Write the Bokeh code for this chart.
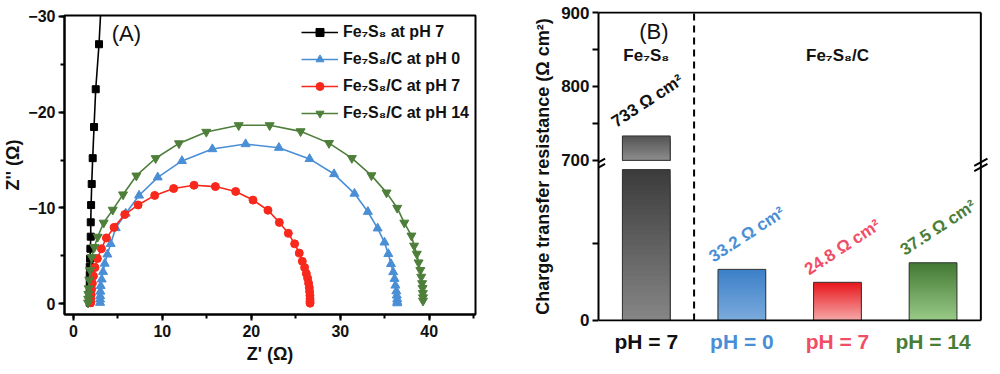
from bokeh.plotting import figure
from bokeh.models import Range1d, SingleIntervalTicker, FixedTicker, Label, ColumnDataSource
from bokeh.layouts import row, column
from bokeh.embed import file_html
from bokeh.resources import INLINE
from bokeh.core.properties import value

FONT = "Liberation Sans"

# ---------------- data: panel (A) Nyquist plots ----------------
series_names = ["Fe₇S₈ at pH 7", "Fe₇S₈/C at pH 0", "Fe₇S₈/C at pH 7", "Fe₇S₈/C at pH 14"]

fe7s8_ph7_x = [1.83, 1.83, 1.83, 1.84, 1.84, 1.84, 1.84, 1.87, 1.91, 1.95, 1.95, 1.99,
               2.06, 2.17, 2.32, 2.51, 2.88, 3.2]
fe7s8_ph7_y = [-0.1, -0.5, -1.0, -1.6, -2.2, -3.0, -3.85, -4.7, -5.74, -7.0, -8.5, -10.3,
               -12.5, -15.2, -18.45, -22.4, -27.1, -32.8]

c_ph0_x = [3.0, 3.0, 3.01, 3.03, 3.07, 3.18, 3.33, 3.52, 3.82, 4.19, 4.76, 5.88, 7.38,
           9.48, 12.2, 15.62, 19.36, 23.1, 26.55, 29.3, 31.6, 33.1, 34.2, 34.97, 35.4,
           35.7, 35.95, 36.1, 36.2, 36.3, 36.35, 36.4, 36.4, 36.4]
c_ph0_y = [-0.1, -0.45, -0.8, -1.27, -1.86, -2.54, -3.33, -4.19, -5.15, -6.25, -7.9,
           -9.42, -11.3, -13.2, -14.91, -16.15, -16.67, -16.29, -15.12, -13.54, -11.5,
           -9.6, -7.87, -6.4, -5.2, -4.15, -3.3, -2.6, -1.9, -1.3, -0.86, -0.48, -0.2, -0.05]

c_ph7_x = [1.95, 1.97, 2.0, 2.05, 2.13, 2.25, 2.43, 2.70, 3.15, 3.71, 4.57, 5.77, 7.27,
           9.14, 11.27, 13.56, 15.96, 18.24, 20.19, 21.87, 23.15, 24.16, 24.87, 25.39,
           25.73, 25.99, 26.18, 26.33, 26.44, 26.52, 26.55, 26.59, 26.6, 26.6, 26.6]
c_ph7_y = [-0.1, -0.5, -0.95, -1.5, -2.13, -2.89, -3.78, -4.71, -5.74, -6.87, -7.97,
           -9.31, -10.31, -11.31, -12.03, -12.37, -12.23, -11.72, -10.82, -9.76, -8.49,
           -7.35, -6.25, -5.29, -4.43, -3.78, -3.16, -2.65, -2.13, -1.68, -1.27, -0.86,
           -0.5, -0.25, -0.05]

c_ph14_x = [1.65, 1.66, 1.68, 1.72, 1.78, 1.88, 2.06, 2.36, 2.73, 3.4, 4.42, 5.58, 7.08,
            9.25, 11.87, 14.94, 18.58, 22.06, 25.54, 28.73, 31.3, 33.5, 35.2, 36.4, 37.2,
            38.0, 38.3, 38.6, 38.8, 39.0, 39.1, 39.2, 39.25, 39.28, 39.3, 39.3]
c_ph14_y = [-0.1, -0.5, -1.0, -1.6, -2.5, -3.5, -4.85, -5.9, -6.98, -8.45, -9.8, -11.4,
            -13.37, -15.19, -16.74, -17.94, -18.63, -18.63, -18.0, -16.77, -15.2, -13.4,
            -11.6, -10.0, -8.45, -7.1, -6.05, -5.2, -4.3, -3.5, -2.8, -2.13, -1.62, -1.1,
            -0.65, -0.3]

# ---------------- data: panel (B) charge transfer resistance ----------------
bar_categories = ["pH = 7", "pH = 0", "pH = 7", "pH = 14"]
bar_groups = ["Fe₇S₈", "Fe₇S₈/C"]
rct_values = [733, 33.2, 24.8, 37.5]
y_tick_values = [0, 50, 700, 750, 800, 850, 900]
y_tick_labels = ["0", "", "700", "", "800", "", "900"]

# ---------------- styles ----------------
line_colors = ["#000000", "#4a8fd6", "#f8281c", "#4e7f3a"]
markers = ["square", "triangle", "circle", "inverted_triangle"]
marker_sizes = [7, 9, 8, 9]
label_colors = ["#111111", "#4a8fd6", "#f24d66", "#4a7e38"]
bar_top_colors = ["#3c3c3c", "#3d80c8", "#e8181e", "#437a34"]
bar_bot_colors = ["#858585", "#7aaadc", "#f6a6a6", "#98c986"]
upper_top_color, upper_bot_color = "#555555", "#8c8c8c"

TOTAL_H = 366

# ====================== Panel (A) ======================
P1_TOP, P1_FRAME = 15, 299
p1 = figure(frame_width=411, frame_height=P1_FRAME, x_range=Range1d(-1.0, 45.2),
            y_range=Range1d(1.13, -30.1), output_backend="svg", toolbar_location=None,
            min_border_left=60, min_border_right=19, min_border_top=P1_TOP,
            min_border_bottom=TOTAL_H - P1_TOP - P1_FRAME)
p1.grid.visible = False
p1.outline_line_color = "black"
p1.outline_line_width = 2

xs = [fe7s8_ph7_x, c_ph0_x, c_ph7_x, c_ph14_x]
ys = [fe7s8_ph7_y, c_ph0_y, c_ph7_y, c_ph14_y]
for i in range(4):
    p1.line(xs[i], ys[i], line_color=line_colors[i], line_width=1.6, legend_label=series_names[i])
    p1.scatter(xs[i], ys[i], marker=markers[i], size=marker_sizes[i], fill_color=line_colors[i],
               line_color=line_colors[i], legend_label=series_names[i])

p1.xaxis.ticker = SingleIntervalTicker(interval=10, num_minor_ticks=2)
p1.yaxis.ticker = SingleIntervalTicker(interval=10, num_minor_ticks=2)
p1.xaxis.axis_label = "Z' (Ω)"
p1.yaxis.axis_label = "Z'' (Ω)"
for ax in (p1.xaxis[0], p1.yaxis[0]):
    ax.axis_line_width = 2
    ax.major_tick_line_width = 2
    ax.minor_tick_line_width = 2
    ax.major_tick_in = 0
    ax.major_tick_out = 6
    ax.minor_tick_in = 0
    ax.minor_tick_out = 4
    ax.major_label_text_font = FONT
    ax.major_label_text_font_style = "bold"
    ax.major_label_text_font_size = "16px"
    ax.major_label_text_color = "#111111"
    ax.axis_label_text_font = FONT
    ax.axis_label_text_font_style = "bold"
    ax.axis_label_text_font_size = "18px"
    ax.axis_label_text_color = "#111111"
p1.xaxis.major_label_standoff = 4
p1.xaxis.axis_label_standoff = 4
p1.yaxis.major_label_standoff = 3
p1.yaxis.axis_label_standoff = 2

leg = p1.legend[0]
leg.location = (237, 191)
leg.border_line_color = None
leg.background_fill_alpha = 0
leg.label_text_font = FONT
leg.label_text_font_style = "bold"
leg.label_text_font_size = "16px"
leg.label_text_color = "#111111"
leg.glyph_width = 37
leg.glyph_height = 20
leg.label_height = 20
leg.label_standoff = 5
leg.spacing = 7
leg.margin = 0
leg.padding = 4

p1.add_layout(Label(x=5.95, y=-28.2, text="(A)", text_font=FONT, text_font_size="22px",
                    text_align="center", text_baseline="middle", text_color="#111111"))

# ====================== Panel (B) ======================
N_CAT = len(rct_values)
Y0, Y1 = -0.65, 200.65  # lower-segment coordinates of the frame
BREAK_POS = 104         # where 700 sits in lower-segment coordinates
HIGH_MIN, HIGH_MAX = 700, 900
LOW_CUT = 98            # where the lower segment ends
scale = (200 - BREAK_POS) / (HIGH_MAX - HIGH_MIN)


def to_primary(v):
    return v if v < HIGH_MIN else BREAK_POS + (v - HIGH_MIN) * scale


def to_upper(p):
    return HIGH_MIN + (p - BREAK_POS) / scale


PAD_R = 0.08
xr = Range1d(0, N_CAT + PAD_R)
P2_TOP, P2_FRAME, P2_BOTTOM = 11, 310, 9

p2 = figure(frame_width=390, frame_height=P2_FRAME, x_range=xr, y_range=Range1d(Y0, Y1),
            output_backend="svg", toolbar_location=None, x_axis_location=None,
            min_border_left=104, min_border_right=0, min_border_top=P2_TOP,
            min_border_bottom=P2_BOTTOM)
p2.extra_y_ranges = {"upper": Range1d(to_upper(Y0), to_upper(Y1))}
p2.grid.visible = False
p2.outline_line_color = None


def hexrgb(c):
    c = c.lstrip("#")
    return tuple(int(c[k:k + 2], 16) for k in (0, 2, 4))


def mix(c1, c2, t):
    a, b = hexrgb(c1), hexrgb(c2)
    return "#%02x%02x%02x" % tuple(int(round(a[k] + (b[k] - a[k]) * t)) for k in range(3))


def gradient_bar(xc, bottom, top, ctop, cbot, rng="default", n=30):
    tops = [top - (top - bottom) * i / n for i in range(n)]
    cols = [mix(ctop, cbot, i / (n - 1)) for i in range(n)]
    src = ColumnDataSource(dict(x=[xc] * n, b=[bottom] * n, t=tops, c=cols))
    p2.vbar(x="x", bottom="b", top="t", width=0.5, fill_color="c", line_color=None,
            source=src, y_range_name=rng)
    p2.vbar(x=[xc], bottom=[bottom], top=[top], width=0.5, fill_color=None,
            line_color="#333333", line_width=1, y_range_name=rng)


xcent = [i + 0.5 for i in range(N_CAT)]
for i, v in enumerate(rct_values):
    if v > LOW_CUT:
        gradient_bar(xcent[i], 0, LOW_CUT, bar_top_colors[i], bar_bot_colors[i])
        gradient_bar(xcent[i], HIGH_MIN, v, upper_top_color, upper_bot_color, rng="upper")
        rng = "upper"
    else:
        gradient_bar(xcent[i], 0, v, bar_top_colors[i], bar_bot_colors[i])
        rng = "default"
    txt = "%s Ω cm²" % ("%g" % v)
    p2.text(x=[xcent[i]], y=[v], text=[txt], angle=0.58, x_offset=5 if i else 1, y_offset=-35,
            text_align="center", text_baseline="middle", text_font=value(FONT),
            text_font_style="bold", text_font_size="17px", text_color=label_colors[i],
            y_range_name=rng)

# group labels
for gx, gt in zip([0.5, 2.5], bar_groups):
    p2.text(x=[gx], y=[842], text=[gt], y_range_name="upper", text_align="center",
            text_baseline="middle", text_font=value(FONT), text_font_style="bold",
            text_font_size="17px", text_color="#111111")
p2.text(x=[0.58], y=[874], text=["(B)"], y_range_name="upper", text_align="center",
        text_baseline="middle", text_font=value(FONT), text_font_size="22px",
        text_color="#111111")

# frame lines (top, right, bottom) and group divider
p2.segment(x0=[0, N_CAT, 0], y0=[200, 0, 0], x1=[N_CAT, N_CAT, N_CAT], y1=[200, 200, 0],
           line_color="black", line_width=2)
p2.segment(x0=[1], y0=[0], x1=[1], y1=[200], line_color="black", line_width=2,
           line_dash="7 5")

# axis break marks (two slanted dashes on each vertical border)
brk = (LOW_CUT + BREAK_POS) / 2
p2.scatter(x=[0, 0, N_CAT, N_CAT], y=[brk - 1.7, brk + 1.7, brk - 1.7, brk + 1.7],
           marker="dash", size=15, angle=0.5, line_color="black", line_width=2)

ticks = [to_primary(v) for v in y_tick_values]
ya = p2.yaxis[0]
ya.bounds = (0, 200)
ya.ticker = FixedTicker(ticks=ticks)
ya.major_label_overrides = {t: lab for t, lab in zip(ticks, y_tick_labels)}
ya.axis_label = "Charge transfer resistance (Ω cm²)"
ya.axis_line_width = 2
ya.major_tick_line_width = 2
ya.major_tick_in = 0
ya.major_tick_out = 6
ya.minor_tick_line_color = None
ya.major_label_text_font = FONT
ya.major_label_text_font_style = "bold"
ya.major_label_text_font_size = "17px"
ya.major_label_text_color = "#111111"
ya.major_label_standoff = 3
ya.axis_label_text_font = FONT
ya.axis_label_text_font_style = "bold"
ya.axis_label_text_font_size = "18px"
ya.axis_label_text_color = "#111111"
ya.axis_label_standoff = 5

# category labels under the bars
P3_H = TOTAL_H - (P2_TOP + P2_FRAME + P2_BOTTOM)
p3 = figure(frame_width=390, frame_height=P3_H, x_range=xr, y_range=Range1d(0, P3_H),
            output_backend="svg", toolbar_location=None, x_axis_location=None,
            y_axis_location=None, min_border_left=104, min_border_right=0,
            min_border_top=0, min_border_bottom=0)
p3.grid.visible = False
p3.outline_line_color = None
p3.text(x=xcent, y=[P3_H - 11] * N_CAT, text=bar_categories, text_color=label_colors,
        text_align="center", text_baseline="middle", text_font=value(FONT),
        text_font_style="bold", text_font_size="21px")

layout = row(p1, column(p2, p3))
open("out.html", "w").write(file_html(layout, INLINE))
